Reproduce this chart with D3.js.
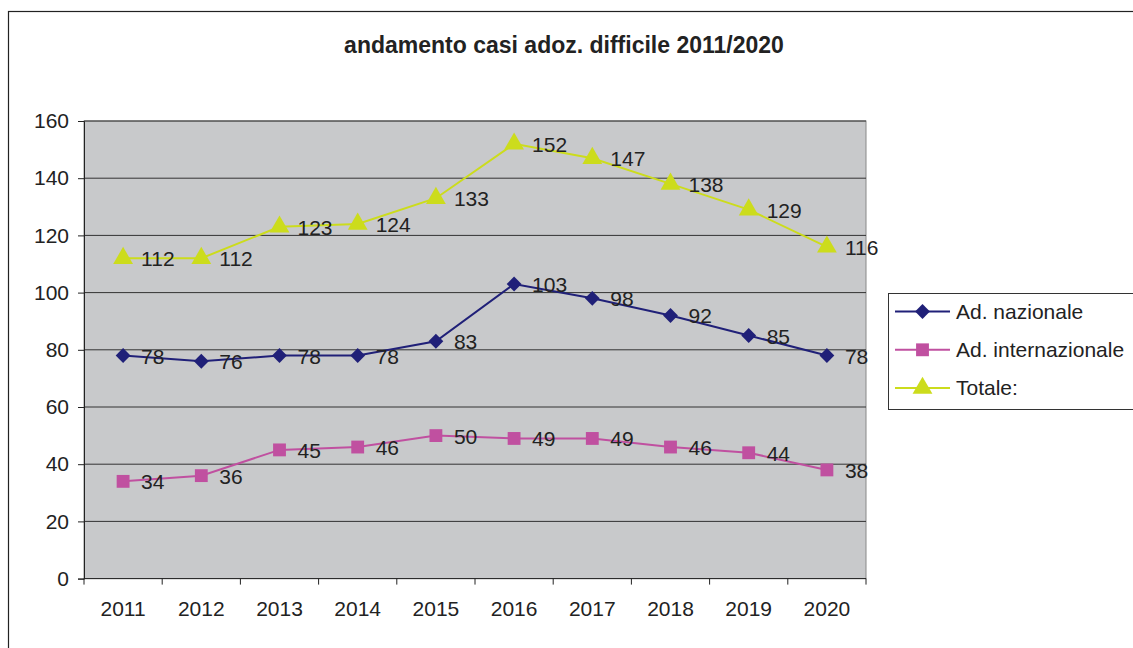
<!DOCTYPE html>
<html>
<head>
<meta charset="utf-8">
<script src="https://cdn.jsdelivr.net/npm/d3@7"></script>
<style>
  body { margin: 0; background: #fff; }
  svg { font-family: "Liberation Sans", Arial, sans-serif; }
</style>
</head>
<body>
<svg id="chart" width="1133" height="648"></svg>
<script>
// data
var years = ["2011", "2012", "2013", "2014", "2015", "2016", "2017", "2018", "2019", "2020"];
var nazionale = [78, 76, 78, 78, 83, 103, 98, 92, 85, 78];
var internazionale = [34, 36, 45, 46, 50, 49, 49, 46, 44, 38];
var totale = [112, 112, 123, 124, 133, 152, 147, 138, 129, 116];
var yTicks = [0, 20, 40, 60, 80, 100, 120, 140, 160];

var series = [
  { name: "Ad. nazionale", values: nazionale, color: "#202078", symbol: d3.symbolSquare, size: 110, rot: 45 },
  { name: "Ad. internazionale", values: internazionale, color: "#c050a0", symbol: d3.symbolSquare, size: 165, rot: 0 },
  { name: "Totale:", values: totale, color: "#ccdc1c", symbol: d3.symbolTriangle, size: 170, rot: 0 }
];

var svg = d3.select("#chart");

// outer frame
svg.append("rect")
  .attr("x", 8.5).attr("y", 11.5)
  .attr("width", 1140).attr("height", 660)
  .attr("fill", "none").attr("stroke", "#222").attr("stroke-width", 1.2);

var plotL = 84, plotT = 121, plotR = 866, plotB = 578.6;

var x = d3.scaleBand().domain(years).range([plotL, plotR]);
var y = d3.scaleLinear().domain([0, 160]).range([plotB, plotT]);

// plot area
svg.append("rect")
  .attr("x", plotL).attr("y", plotT)
  .attr("width", plotR - plotL).attr("height", plotB - plotT)
  .attr("fill", "#c8c9cb").attr("stroke", "#888").attr("stroke-width", 1);

// gridlines
svg.append("g")
  .selectAll("line")
  .data(yTicks.filter(function(d) { return d > 0; }))
  .join("line")
  .attr("x1", plotL).attr("x2", plotR)
  .attr("y1", function(d) { return y(d); })
  .attr("y2", function(d) { return y(d); })
  .attr("stroke", "#333").attr("stroke-width", 1);

// y axis
var yAxis = svg.append("g")
  .attr("transform", "translate(" + plotL + ",0)")
  .call(d3.axisLeft(y).tickValues(yTicks).tickSize(6).tickPadding(9));
yAxis.select(".domain").attr("stroke", "#222");
yAxis.selectAll(".tick line").attr("stroke", "#222");
yAxis.selectAll("text").attr("font-size", 21).attr("fill", "#222")
  .attr("font-family", "Liberation Sans, Arial, sans-serif");

// x axis with ticks at band edges
var xAxis = svg.append("g")
  .attr("transform", "translate(0," + plotB + ")");
xAxis.append("line")
  .attr("x1", plotL).attr("x2", plotR)
  .attr("stroke", "#222");
xAxis.selectAll(".edge")
  .data(years.concat(["end"]))
  .join("line")
  .attr("class", "edge")
  .attr("x1", function(d, i) { return plotL + i * x.bandwidth(); })
  .attr("x2", function(d, i) { return plotL + i * x.bandwidth(); })
  .attr("y1", 0).attr("y2", 6)
  .attr("stroke", "#222");
xAxis.selectAll("text")
  .data(years)
  .join("text")
  .attr("x", function(d) { return x(d) + x.bandwidth() / 2; })
  .attr("y", 37)
  .attr("text-anchor", "middle")
  .attr("font-size", 21).attr("fill", "#222")
  .text(function(d) { return d; });

var line = d3.line()
  .x(function(d, i) { return x(years[i]) + x.bandwidth() / 2; })
  .y(function(d) { return y(d); });

series.forEach(function(s) {
  var g = svg.append("g");
  g.append("path")
    .datum(s.values)
    .attr("fill", "none")
    .attr("stroke", s.color)
    .attr("stroke-width", 2)
    .attr("d", line);
  g.selectAll("path.mark")
    .data(s.values)
    .join("path")
    .attr("class", "mark")
    .attr("transform", function(d, i) {
      return "translate(" + (x(years[i]) + x.bandwidth() / 2) + "," + y(d) + ") rotate(" + s.rot + ")";
    })
    .attr("d", d3.symbol().type(s.symbol).size(s.size))
    .attr("fill", s.color);
  g.selectAll("text")
    .data(s.values)
    .join("text")
    .attr("x", function(d, i) { return x(years[i]) + x.bandwidth() / 2 + 18; })
    .attr("y", function(d) { return y(d) + 8; })
    .attr("font-size", 21).attr("fill", "#222")
    .text(function(d) { return d; });
});

// title
svg.append("text")
  .attr("x", 564).attr("y", 53)
  .attr("text-anchor", "middle")
  .attr("font-size", 23).attr("font-weight", "bold").attr("fill", "#222")
  .text("andamento casi adoz. difficile 2011/2020");

// legend
var legend = svg.append("g");
legend.append("rect")
  .attr("x", 888.5).attr("y", 293.5)
  .attr("width", 260).attr("height", 116)
  .attr("fill", "#fff").attr("stroke", "#333").attr("stroke-width", 1);
series.forEach(function(s, i) {
  var ly = 311.5 + i * 38.3;
  legend.append("line")
    .attr("x1", 895).attr("x2", 950)
    .attr("y1", ly).attr("y2", ly)
    .attr("stroke", s.color).attr("stroke-width", 2);
  legend.append("path")
    .attr("transform", "translate(922.5," + ly + ") rotate(" + s.rot + ")")
    .attr("d", d3.symbol().type(s.symbol).size(s.size))
    .attr("fill", s.color);
  legend.append("text")
    .attr("x", 956).attr("y", ly + 7)
    .attr("font-size", 21).attr("fill", "#222")
    .text(s.name);
});
</script>
</body>
</html>
